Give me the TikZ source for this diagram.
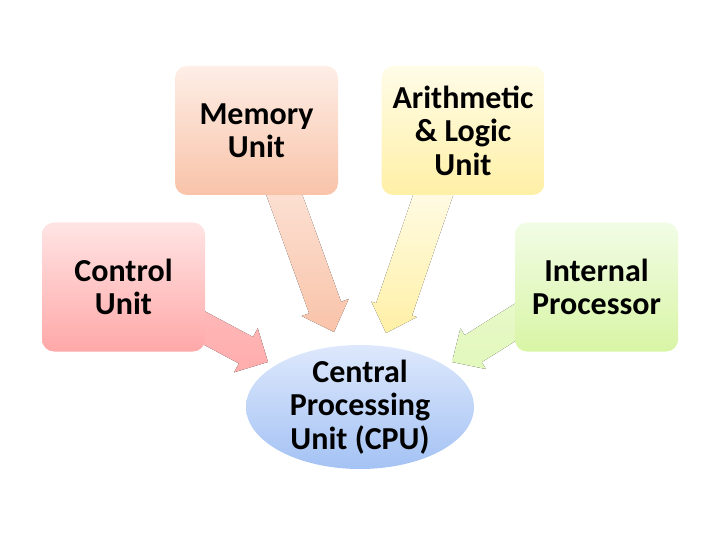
\documentclass[tikz,border=0pt]{standalone}
\usepackage{fontspec}
\setmainfont{Carlito}
\usetikzlibrary{calc,shapes.geometric}
\definecolor{memT}{HTML}{FDEEE6}\definecolor{memB}{HTML}{F9C3A9}
\definecolor{aluT}{HTML}{FFFCE8}\definecolor{aluB}{HTML}{FFF0A6}
\definecolor{ctlT}{HTML}{FFE4E4}\definecolor{ctlB}{HTML}{FFA8A8}
\definecolor{intT}{HTML}{F2FCE6}\definecolor{intB}{HTML}{D8F5A5}
\definecolor{cpuT}{HTML}{DDE8FC}\definecolor{cpuB}{HTML}{A4C2F4}
\newcommand\blockarrow[6]{%
  \coordinate (bah) at ($(#3)!#6!(#2)$);
  \fill[#1] ($(#2)!#4!90:(#3)$) -- ($(bah)!#4!90:(#3)$) -- ($(bah)!#5!90:(#3)$) -- (#3)
    -- ($(bah)!#5!-90:(#3)$) -- ($(bah)!#4!-90:(#3)$) -- ($(#2)!#4!-90:(#3)$) -- cycle;}
\begin{document}
\begin{tikzpicture}[x=1pt,y=-1pt,
  lbl/.style={font=\fontsize{32}{33.5}\selectfont\bfseries, align=center, text=black},
  unitbox/.style={lbl, rounded corners=12pt, minimum width=163pt, minimum height=129pt, inner sep=0pt}]
\useasboundingbox (0,0) rectangle (720,540);
% connector coordinates
\coordinate (mS) at (276,172); \coordinate (mE) at (334,332);
\coordinate (aS) at (441,172); \coordinate (aE) at (386,333);
\coordinate (cS) at (180,315); \coordinate (cE) at (268,362);
\coordinate (iS) at (530,313); \coordinate (iE) at (452,362);
% block arrows
\blockarrow{top color=memT!80!memB, bottom color=memB}{mS}{mE}{17pt}{25pt}{26pt}
\blockarrow{top color=aluT!70!white, bottom color=aluB}{aS}{aE}{19pt}{24pt}{25pt}
\blockarrow{top color=ctlB!80!white, bottom color=ctlB!95!white}{cS}{cE}{15pt}{25pt}{25pt}
\blockarrow{top color=intB!60!white, bottom color=intB!75!white}{iS}{iE}{16pt}{24pt}{25pt}
% boxes
\node[unitbox, top color=memT, bottom color=memB] (mem) at (256.5,130.5) {Memory\\Unit};
\node[unitbox, top color=aluT, bottom color=aluB] (alu) at (463,130.5) {Arithmetic\\\& Logic\\Unit};
\node[unitbox, top color=ctlT, bottom color=ctlB] (ctl) at (123.5,287) {Control\\Unit};
\node[unitbox, top color=intT, bottom color=intB] (int) at (596.5,287) {Internal\\Processor};
\node[ellipse, inner sep=0pt, minimum width=228pt, minimum height=124pt,
  top color=cpuT, bottom color=cpuB] (cpu) at (360,407) {};
\node[lbl] (cputext) at (cpu.center) {Central\\Processing\\Unit (CPU)};
\end{tikzpicture}
\end{document}
